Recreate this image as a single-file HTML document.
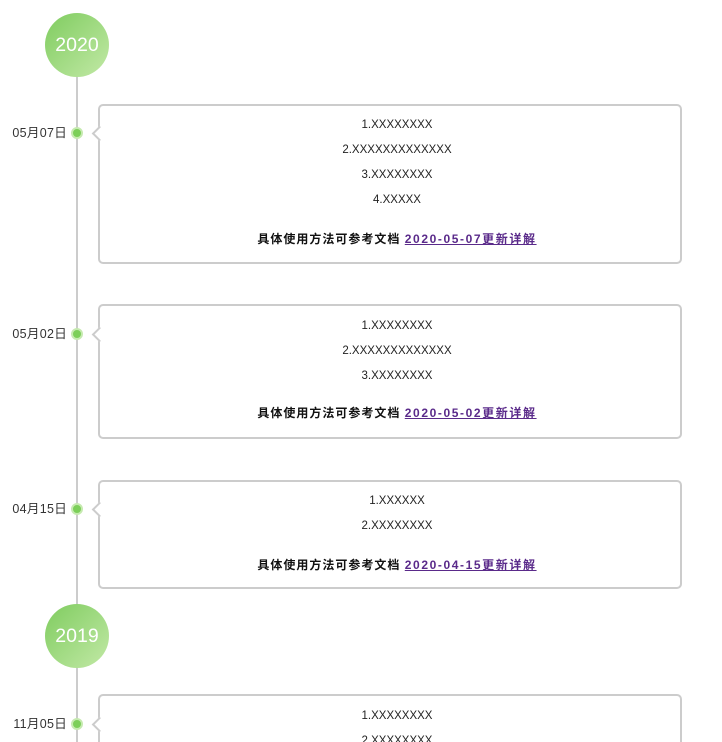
<!DOCTYPE html>
<html style="overflow:hidden;height:742px"><head><meta charset="utf-8"><style>
body{margin:0;width:722px;height:742px;overflow:hidden;background:#fff;font-family:"Liberation Sans","Noto Sans CJK SC",sans-serif;position:relative}
.vl{position:absolute;left:76px;top:60px;width:2px;height:682px;background:#ccc}
.yr{position:absolute;left:45px;width:64px;height:64px;border-radius:50%;background:linear-gradient(135deg,#7fcc5f,#c2e9a6);color:#fff;font-size:19.5px;text-align:center;line-height:64px}
.dot{position:absolute;left:71px;width:8px;height:8px;border-radius:50%;background:#7ccf59;border:2px solid #c6eab0}
.dt{position:absolute;left:0;width:67px;text-align:right;font-size:12.5px;color:#333;line-height:16px;letter-spacing:0.3px}
.card{position:absolute;left:98px;width:580px;border:2px solid #ccc;border-radius:5px;background:#fff}
.ar{position:absolute;left:-6px;width:9px;height:9px;background:#fff;border-left:2px solid #ccc;border-bottom:2px solid #ccc;transform:rotate(45deg)}
.t{position:absolute;left:14px;right:0;text-align:center;font-size:11.5px;color:#222;line-height:20px}
.lk{position:absolute;left:14px;right:0;text-align:center;font-size:12px;font-weight:bold;color:#111;line-height:20px;letter-spacing:1px}
.lk a{color:#5a2a8a;text-decoration:underline;letter-spacing:1.6px}
</style></head><body>
<div class="vl"></div>
<div class="yr" style="top:13px">2020</div>
<div class="yr" style="top:604px">2019</div>

<div class="dt" style="top:125px">05月07日</div><div class="dot" style="top:127px"></div>
<div class="card" style="top:104px;height:156px"><div class="ar" style="top:22px"></div>
<div class="t" style="top:9px">1.XXXXXXXX</div>
<div class="t" style="top:34px">2.XXXXXXXXXXXXX</div>
<div class="t" style="top:59px">3.XXXXXXXX</div>
<div class="t" style="top:84px">4.XXXXX</div>
<div class="lk" style="top:123px">具体使用方法可参考文档 <a>2020-05-07更新详解</a></div></div>

<div class="dt" style="top:326px">05月02日</div><div class="dot" style="top:328px"></div>
<div class="card" style="top:304px;height:131px"><div class="ar" style="top:23px"></div>
<div class="t" style="top:10px">1.XXXXXXXX</div>
<div class="t" style="top:35px">2.XXXXXXXXXXXXX</div>
<div class="t" style="top:60px">3.XXXXXXXX</div>
<div class="lk" style="top:97px">具体使用方法可参考文档 <a>2020-05-02更新详解</a></div></div>

<div class="dt" style="top:501px">04月15日</div><div class="dot" style="top:503px"></div>
<div class="card" style="top:480px;height:105px"><div class="ar" style="top:22px"></div>
<div class="t" style="top:9px">1.XXXXXX</div>
<div class="t" style="top:34px">2.XXXXXXXX</div>
<div class="lk" style="top:73px">具体使用方法可参考文档 <a>2020-04-15更新详解</a></div></div>

<div class="dt" style="top:716px">11月05日</div><div class="dot" style="top:718px"></div>
<div class="card" style="top:694px;height:46px;border-bottom:none;border-radius:5px 5px 0 0"><div class="ar" style="top:23px"></div>
<div class="t" style="top:10px">1.XXXXXXXX</div>
<div class="t" style="top:35px;height:13px;overflow:hidden">2.XXXXXXXX</div></div>
</body></html>
